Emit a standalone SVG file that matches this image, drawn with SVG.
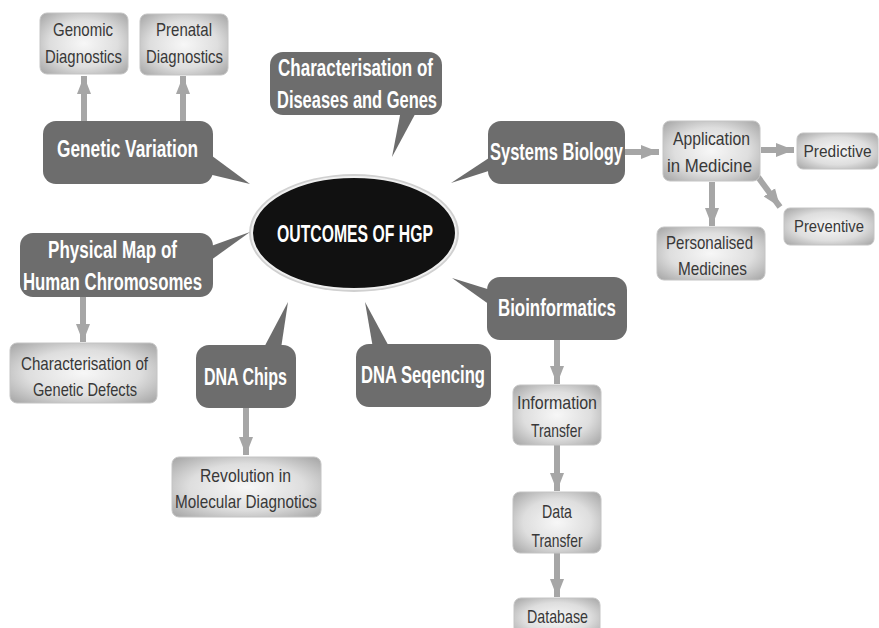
<svg xmlns="http://www.w3.org/2000/svg" width="879" height="628" viewBox="0 0 879 628">
<style>
.dk{fill:#6d6d6d}
.lt{fill:url(#lg);stroke:#c4c4c4;stroke-width:1}
.dt{font-family:"Liberation Sans",Arial,sans-serif;font-weight:bold;font-size:23px;fill:#ffffff;text-anchor:middle}
.ltx{font-family:"Liberation Sans",Arial,sans-serif;font-size:19px;fill:#383838;text-anchor:middle}
.sm{font-size:16.5px}
.ar{stroke:#a6a6a6;stroke-width:6;fill:none;marker-end:url(#ah)}
</style>
<defs>
<radialGradient id="lg" cx="50%" cy="50%" r="70%">
<stop offset="0" stop-color="#f7f7f7"/>
<stop offset="0.55" stop-color="#dedede"/>
<stop offset="1" stop-color="#a4a4a4"/>
</radialGradient>
<marker id="ah" markerUnits="userSpaceOnUse" markerWidth="20" markerHeight="16" refX="18" refY="8" orient="auto">
<path d="M0,1 L18,8 L0,15 Z" fill="#a6a6a6"/>
</marker>
</defs>
<rect width="879" height="628" fill="#ffffff"/>

<g id="connectors">
<line class="ar" x1="84" y1="121" x2="84" y2="76"/>
<line class="ar" x1="183" y1="121" x2="183" y2="76"/>
<line class="ar" x1="625" y1="152" x2="659" y2="152"/>
<line class="ar" x1="761" y1="150" x2="794" y2="150"/>
<line class="ar" x1="712" y1="182" x2="712" y2="226"/>
<line class="ar" x1="758" y1="177" x2="780" y2="207"/>
<line class="ar" x1="83" y1="297" x2="83" y2="342"/>
<line class="ar" x1="246" y1="408" x2="246" y2="455"/>
<line class="ar" x1="557" y1="340" x2="557" y2="384"/>
<line class="ar" x1="557" y1="445" x2="557" y2="491"/>
<line class="ar" x1="557" y1="553" x2="557" y2="597"/>
</g>

<g id="center">
<ellipse cx="354" cy="233" rx="105" ry="59" fill="#d0d0d0"/>
<ellipse cx="354" cy="233" rx="102" ry="56" fill="#111111" stroke="#f0f0f0" stroke-width="2"/>
<text x="355" y="242" font-family="'Liberation Sans',Arial,sans-serif" font-weight="bold" font-size="24" fill="#ffffff" text-anchor="middle" textLength="156" lengthAdjust="spacingAndGlyphs">OUTCOMES OF HGP</text>
</g>

<g id="genomic">
<rect class="lt" x="40" y="13" width="88" height="61" rx="7"/>
<text class="ltx" x="83" y="36" textLength="60" lengthAdjust="spacingAndGlyphs">Genomic</text>
<text class="ltx" x="83.5" y="63" textLength="77" lengthAdjust="spacingAndGlyphs">Diagnostics</text>
</g>
<g id="prenatal">
<rect class="lt" x="140" y="14" width="88" height="61" rx="7"/>
<text class="ltx" x="184" y="36" textLength="56" lengthAdjust="spacingAndGlyphs">Prenatal</text>
<text class="ltx" x="184.5" y="63" textLength="77" lengthAdjust="spacingAndGlyphs">Diagnostics</text>
</g>

<g id="genetic-variation">
<path class="dk" d="M200,147 L250,184 L200,172 Z"/>
<rect class="dk" x="43" y="121" width="170" height="63" rx="13"/>
<text class="dt" x="127.5" y="157" textLength="141" lengthAdjust="spacingAndGlyphs">Genetic Variation</text>
</g>

<g id="char-diseases">
<path class="dk" d="M402,105 L392,157 L420,105 Z"/>
<rect class="dk" x="270" y="52" width="172" height="63" rx="13"/>
<text class="dt" x="355.5" y="76" textLength="155" lengthAdjust="spacingAndGlyphs">Characterisation of</text>
<text class="dt" x="357" y="108" textLength="160" lengthAdjust="spacingAndGlyphs">Diseases and Genes</text>
</g>

<g id="systems-biology">
<path class="dk" d="M498,152 L451,183 L498,168 Z"/>
<rect class="dk" x="488" y="121" width="137" height="63" rx="13"/>
<text class="dt" x="556.5" y="160" textLength="133" lengthAdjust="spacingAndGlyphs">Systems Biology</text>
</g>

<g id="application">
<rect class="lt" x="663" y="121" width="97" height="60" rx="7"/>
<text class="ltx" x="711.5" y="145" textLength="77" lengthAdjust="spacingAndGlyphs">Application</text>
<text class="ltx" x="709.5" y="172" textLength="85" lengthAdjust="spacingAndGlyphs">in Medicine</text>
</g>
<g id="predictive">
<rect class="lt" x="797" y="133" width="81" height="36" rx="6"/>
<text class="ltx sm" x="837.5" y="157" textLength="68" lengthAdjust="spacingAndGlyphs">Predictive</text>
</g>
<g id="personalised">
<rect class="lt" x="657" y="227" width="108" height="53" rx="7"/>
<text class="ltx" x="709.5" y="249" textLength="87" lengthAdjust="spacingAndGlyphs">Personalised</text>
<text class="ltx" x="712.5" y="275" textLength="69" lengthAdjust="spacingAndGlyphs">Medicines</text>
</g>
<g id="preventive">
<rect class="lt" x="784" y="208" width="90" height="37" rx="6"/>
<text class="ltx sm" x="829" y="232" textLength="70" lengthAdjust="spacingAndGlyphs">Preventive</text>
</g>

<g id="physical-map">
<path class="dk" d="M200,250 L250,232 L200,268 Z"/>
<rect class="dk" x="20" y="233" width="193" height="64" rx="13"/>
<text class="dt" x="112.5" y="258" textLength="129" lengthAdjust="spacingAndGlyphs">Physical Map of</text>
<text class="dt" x="112.5" y="290" textLength="179" lengthAdjust="spacingAndGlyphs">Human Chromosomes</text>
</g>
<g id="char-defects">
<rect class="lt" x="10" y="343" width="147" height="60" rx="7"/>
<text class="ltx" x="84.5" y="370" textLength="127" lengthAdjust="spacingAndGlyphs">Characterisation of</text>
<text class="ltx" x="85" y="396" textLength="104" lengthAdjust="spacingAndGlyphs">Genetic Defects</text>
</g>

<g id="dna-chips">
<path class="dk" d="M260,355 L288,302 L280,355 Z"/>
<rect class="dk" x="196" y="345" width="100" height="63" rx="13"/>
<text class="dt" x="245.5" y="385" textLength="83" lengthAdjust="spacingAndGlyphs">DNA Chips</text>
</g>
<g id="revolution">
<rect class="lt" x="172" y="457" width="149" height="60" rx="7"/>
<text class="ltx" x="245.5" y="482" textLength="91" lengthAdjust="spacingAndGlyphs">Revolution in</text>
<text class="ltx" x="246" y="508" textLength="142" lengthAdjust="spacingAndGlyphs">Molecular Diagnotics</text>
</g>

<g id="dna-sequencing">
<path class="dk" d="M374,354 L365,302 L393,354 Z"/>
<rect class="dk" x="356" y="344" width="135" height="63" rx="13"/>
<text class="dt" x="423" y="383" textLength="124" lengthAdjust="spacingAndGlyphs">DNA Seqencing</text>
</g>

<g id="bioinformatics">
<path class="dk" d="M497,292 L452,278 L497,310 Z"/>
<rect class="dk" x="487" y="277" width="140" height="63" rx="13"/>
<text class="dt" x="557" y="316" textLength="118" lengthAdjust="spacingAndGlyphs">Bioinformatics</text>
</g>
<g id="info-transfer">
<rect class="lt" x="513" y="385" width="88" height="60" rx="7"/>
<text class="ltx" x="557" y="409" textLength="80" lengthAdjust="spacingAndGlyphs">Information</text>
<text class="ltx" x="556.5" y="437" textLength="51" lengthAdjust="spacingAndGlyphs">Transfer</text>
</g>
<g id="data-transfer">
<rect class="lt" x="513" y="492" width="88" height="61" rx="7"/>
<text class="ltx" x="557" y="518" textLength="30" lengthAdjust="spacingAndGlyphs">Data</text>
<text class="ltx" x="557" y="547" textLength="51" lengthAdjust="spacingAndGlyphs">Transfer</text>
</g>
<g id="database">
<rect class="lt" x="514" y="598" width="86" height="40" rx="7"/>
<text class="ltx" x="557.5" y="623" textLength="61" lengthAdjust="spacingAndGlyphs">Database</text>
</g>
</svg>
